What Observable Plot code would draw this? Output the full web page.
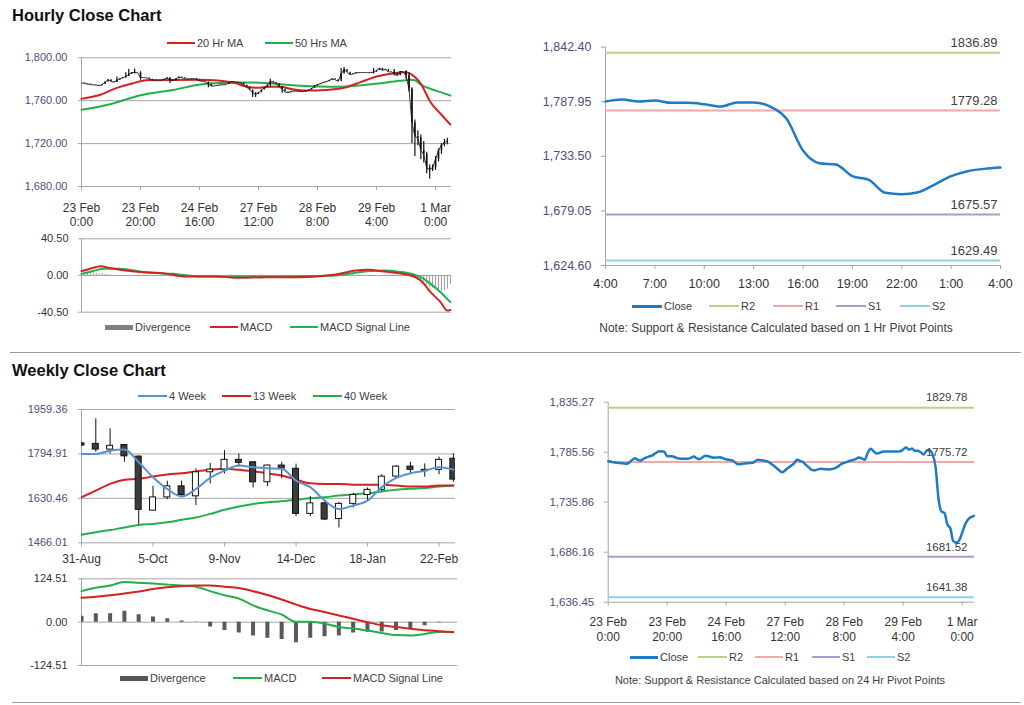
<!DOCTYPE html>
<html><head><meta charset="utf-8">
<script src="https://cdn.jsdelivr.net/npm/d3@7"></script>
<script src="https://cdn.jsdelivr.net/npm/@observablehq/plot@0.6"></script>
<style>
body{margin:0;background:#fff;font-family:"Liberation Sans",Arial,sans-serif;}
#page{position:relative;width:1024px;height:705px;overflow:hidden;background:#fff;}
.title{position:absolute;left:12px;font-weight:bold;font-size:16.5px;line-height:20px;color:#111;white-space:nowrap;}
.lg{position:absolute;font-size:11px;line-height:14px;color:#404040;white-space:nowrap;}
.sw{position:absolute;}
.note{position:absolute;font-size:11px;line-height:14px;color:#404040;white-space:nowrap;transform:translateX(-50%);}
.sep{position:absolute;height:1px;background:#9a9a9a;}
</style></head><body><div id="page"></div>
<script>
// ---------------- DATA ----------------
// Hourly close (23 Feb 0:00 = hour 0, trading hours only)
const hourlyClose = [
1776.6,1776,1775.5,1775,1774.8,1774.5,1774,1775,1777.5,1779.5,
1778,1777.3,1779,1780.5,1781.5,1782.5,1784.5,1786.2,1786.4,1786,
1781.6,1781.5,1781.3,1780,1779.2,1779,1779,1779,1780,1781.3,
1779.5,1778.5,1780.5,1782,1781.5,1780.5,1780,1780.4,1780.6,1779.5,
1778.5,1778,1777.5,1775.5,1773.5,1773.8,1774.2,1774.6,1774.8,1775,
1777,1778,1777.5,1777,1776.5,1774.5,1772.5,1770,1767.5,1765.7,
1767.5,1770,1772,1774.5,1778,1777,1775.8,1773,1770.6,1768,
1767.5,1768.5,1769,1768.8,1768.6,1768.4,1769,1769.8,1771.5,1773.8,
1775,1776,1777,1777.8,1779,1780.4,1779.5,1778,1785,1789,
1786.5,1784.2,1785,1786,1786.2,1786.2,1786.2,1786.2,1786.2,1786.5,
1788.2,1790.2,1788.2,1789.2,1786.9,1786.9,1785.5,1783.2,1787.2,1787.2,
1783.2,1770.9,1739.3,1726.6,1725.3,1713.7,1710.0,1697.1,1695.7,1697.7,
1705.4,1713.7,1718.7,1721.0,1722.3
];
// hourly high/low spikes (notable bars)
const wickHours = [12,15,16,18,20,30,43,58,59,64,68,88,89,99,106,110,111,112,113,114,115,116,117,118,119,120,121,122,123,124];
const wickLows  = [1777,1781,1783,1785,1779,1776,1772,1763,1763,1773,1767,1780,1786,1785,1783,1780,1768,1720,1708,1718,1705,1702,1692,1687,1694,1695,1703,1710,1717,1719];
const wickHighs = [1782,1786,1789,1789.5,1787,1781,1777,1769,1767,1780,1772,1790,1791,1790,1789,1788,1786,1772,1742,1732,1728,1722,1712,1700,1700,1708,1715,1720,1724,1725];

const hourTicks = [0,20,40,60,80,100,120];
const hourTickLabels = ["23 Feb\n0:00","23 Feb\n20:00","24 Feb\n16:00","27 Feb\n12:00","28 Feb\n8:00","29 Feb\n4:00","1 Mar\n0:00"];

const ma20Hours  = [0,6.4,12,17.7,22,40,45,52,56,60,63,67.5,71,76.5,83,89,94.6,100,106,110,111.5,115,118.3,121.7,125];
const ma20Values = [1761.7,1765.5,1772,1776.4,1779,1779.5,1779,1776.4,1773,1772,1773,1773,1771,1769.5,1770,1772,1777.3,1782.6,1785.7,1786.6,1785,1775.8,1758.6,1747.8,1737.8];
const ma50Hours  = [0,10,20,31,43,58,74,85.5,97,108,111.5,113,115,118.3,121.7,125];
const ma50Values = [1751.5,1757,1765,1770,1776,1777,1774,1773,1775,1778.5,1779.5,1779,1775,1771,1768,1764.8];

const hPriceTicks = [1680,1720,1760,1800];

// hourly MACD
const hMacdHours  = [0,3,6.4,10,18,29,35,46,52,63,74,85.5,93,97,102.5,111.5,115,118.3,121.7,124,125];
const hMacdValues = [4.8,7.5,10.3,8,4.4,1.8,-1.1,-1,-2.6,-1.8,-1.8,0.7,5.5,6.3,4.4,0,-5.5,-18.4,-29.4,-38.6,-38];
const hSignalHours  = [0,4,7.6,13,21,31,40,50,60,80,86,97,102.5,108,112.6,115,118.3,121.7,125];
const hSignalValues = [1.8,5,7.4,7.4,3.7,1.8,-1,-1,-1,-0.5,0,4.8,5.5,4,1.1,-1.8,-9.2,-18.4,-29.4];
const hDivHours  = [1,2,3,4,5,6,7,8,9,10,18,19,20,21,22,23,30,31,32,33,34,50,51,60,61,70,71,72,73,74,88,89,90,91,92,104,105,106,107,108,112,113,114,115,116,117,118,119,120,121,122,123,124,125];
const hDivValues = [2,3,3,3,2.5,2,2,1.5,1,0.5,-1,-1.2,-1,-1,-0.8,-0.8,1,1,1.2,1,0.8,0.6,0.8,0.5,0.6,-1,-1.2,-1.2,-1,-0.8,1,1.5,1.5,1.2,1,-0.8,-1,-1.2,-1,-0.8,-1.5,-3,-5,-7,-9,-11,-13,-14,-15,-16,-17,-17,-15,-10];
const hMacdTicks = [-40.5,0,40.5];

// last 24 hours with 1 hr pivots
const dayTicks = [0,3,6,9,12,15,18,21,24];
const dayTickLabels = ["4:00","7:00","10:00","13:00","16:00","19:00","22:00","1:00","4:00"];
const dayPriceTicks = [1624.60,1679.05,1733.50,1787.95,1842.40];
const hourPivotNames  = ["R2","R1","S1","S2"];
const hourPivotValues = [1836.89,1779.28,1675.57,1629.49];

// weekly candles (31-Aug = week 0)
const weekOpen  = [1834,1832,1811,1828,1785,1585,1634,1675,1638,1727,1737,1773,1764,1690,1752,1740,1573,1612,1554,1610,1643,1662,1711,1748,1736,1736,1777];
const weekClose = [1826,1811,1825,1786,1588,1634,1675,1643,1727,1737,1773,1762,1690,1752,1740,1573,1612,1552,1610,1643,1662,1711,1748,1736,1731,1773,1700];
const weekHigh  = [1836,1925,1888,1830,1788,1675,1694,1694,1740,1760,1807,1795,1766,1754,1764,1757,1637,1616,1616,1649,1669,1718,1752,1764,1758,1783,1795];
const weekLow   = [1824,1801,1795,1764,1533,1583,1626,1634,1604,1684,1721,1746,1669,1674,1703,1563,1563,1548,1521,1595,1622,1656,1707,1721,1709,1718,1690];
const ma4Week  = [1795,1795,1807,1811,1764,1709,1665,1637,1665,1706,1733,1752,1746,1742,1740,1696,1672,1622,1591,1604,1622,1672,1706,1723,1733,1746,1737];
const ma13Week = [1634.5,1659,1684,1699,1703,1711,1719,1723,1730,1736,1740,1736,1730,1723,1715,1700,1686,1684,1684,1681,1681,1681,1678,1674,1674,1678,1678];
const ma40Week = [1496,1505,1513,1523,1532,1536,1542,1551,1560,1573,1588,1600,1610,1616,1620,1625,1631,1634.5,1641,1645,1649,1656,1662,1666,1669,1674,1678];
const weekTicks = [0,5,10,15,20,25];
const weekTickLabels = ["31-Aug","5-Oct","9-Nov","14-Dec","18-Jan","22-Feb"];
const wPriceTicks = [1466.01,1630.46,1794.91,1959.36];

// weekly MACD
const wMacd   = [89,99,105,115,113,111,108,105,102,89,77,68,48,34,22,1,1,-4,-14,-18,-24,-31,-37,-38,-34,-28,-28];
const wSignal = [70,73,77,82,88,95,100,103,105,105,102,98,89,78,65,51,38,29,19,10,0,-9,-14,-19,-23,-26,-29];
const wDiv    = [17,24,24,31,21,15,10,3,0.5,-14,-24,-31,-40,-46,-50,-59,-46,-42,-40,-31,-29,-28,-24,-21,-10,-2,0];
const wMacdTicks = [-124.51,0,124.51];

// full week close with 24 hr pivots
const weekPriceTicks = [1636.45,1686.16,1735.86,1785.56,1835.27];
const dayPivotNames  = ["R2","R1","S1","S2"];
const dayPivotValues = [1829.78,1775.72,1681.52,1641.38];

// ---------------- STYLES ----------------
const FONT = '"Liberation Sans", Arial, sans-serif';
const GRID = "#a6a6a6";
const PRICE_LBL = "#574a78";
const RED = "#d42222", GREEN = "#22b04b", BLUE = "#1f7bc4", BLUE4 = "#5b8fd4";
const pivotColor = {R2:"#b7d08a", R1:"#f0a8a8", S1:"#ab98cc", S2:"#8ed2e8"};

const page = document.getElementById("page");
function place(el, left, top){ el.style.position="absolute"; el.style.left=left+"px"; el.style.top=top+"px"; page.appendChild(el); }
function div(cls, text, left, top){ const d=document.createElement("div"); d.className=cls; if(text) d.textContent=text; d.style.left=left+"px"; d.style.top=top+"px"; page.appendChild(d); return d; }
function legend(y, items){
  for (const it of items){
    const sw = div("sw", null, it.x, y - it.h/2);
    sw.style.width = it.w+"px"; sw.style.height = it.h+"px"; sw.style.background = it.color;
    div("lg", it.label, it.x + it.w + 2, y - 7);
  }
}
const baseStyle = (fs) => ({fontFamily: FONT, fontSize: fs, background: "transparent", overflow: "visible", color: "#333"});

// ---------------- HEADINGS ----------------
div("title", "Hourly Close Chart", 12, 5);
div("title", "Weekly Close Chart", 12, 360);
const s1 = div("sep", null, 10, 352); s1.style.width = "1011px";
const s2 = div("sep", null, 12, 702); s2.style.width = "1009px";

// ---------------- PANEL 1: hourly bars + MAs ----------------
const hourly = hourlyClose.map((c,i)=>({h:i, close:c, open: i ? hourlyClose[i-1] : c}));
const wicks = wickHours.map((h,i)=>({h, lo:wickLows[i], hi:wickHighs[i]}));
const ma20 = ma20Hours.map((h,i)=>({h, v:ma20Values[i]}));
const ma50 = ma50Hours.map((h,i)=>({h, v:ma50Values[i]}));

const p1 = Plot.plot({
  width:470, height:190, marginLeft:81, marginRight:19, marginTop:9.3, marginBottom:52,
  x:{domain:[0,125.4]}, y:{domain:[1680,1800]},
  style: baseStyle("11px"),
  marks:[
    Plot.ruleY(hPriceTicks, {stroke:GRID}),
    Plot.ruleX([0], {stroke:GRID}),
    Plot.axisY({ticks:hPriceTicks, tickFormat:d3.format(",.2f"), tickSize:3, tickPadding:11, fill:PRICE_LBL, stroke:GRID, fontSize:11, label:null}),
    Plot.axisX({ticks:hourTicks, tickFormat:d=>hourTickLabels[hourTicks.indexOf(d)], tickSize:4, tickPadding:11, fill:"#333", stroke:GRID, fontSize:12, lineHeight:1.2, label:null}),
    Plot.line(ma50, {x:"h", y:"v", stroke:GREEN, strokeWidth:2, curve:"monotone-x"}),
    Plot.line(ma20, {x:"h", y:"v", stroke:RED, strokeWidth:2, curve:"monotone-x"}),
    Plot.line(hourly, {x:"h", y:"close", stroke:"#222", strokeWidth:0.9}),
    Plot.ruleX(hourly, {x:"h", y1:"open", y2:"close", stroke:"#111", strokeWidth:1.5}),
    Plot.ruleX(wicks, {x:"h", y1:"lo", y2:"hi", stroke:"#111", strokeWidth:1.2})
  ]
});
place(p1, 0, 48);
legend(43, [
  {x:167, w:28, h:2.5, color:RED, label:"20 Hr MA"},
  {x:265, w:28, h:2.5, color:GREEN, label:"50 Hrs MA"}
]);

// ---------------- PANEL 2: hourly MACD ----------------
const hMacd = hMacdHours.map((h,i)=>({h, v:hMacdValues[i]}));
const hSig = hSignalHours.map((h,i)=>({h, v:hSignalValues[i]}));
const hDiv = hDivHours.map((h,i)=>({h, v:hDivValues[i]}));
const p2 = Plot.plot({
  width:470, height:90, marginLeft:81, marginRight:19, marginTop:8.3, marginBottom:8.3,
  x:{domain:[0,125.4], axis:null}, y:{domain:[-40.5,40.5]},
  style: baseStyle("11px"),
  marks:[
    Plot.ruleY(hMacdTicks, {stroke:GRID}),
    Plot.ruleX([0], {stroke:GRID}),
    Plot.axisY({ticks:hMacdTicks, tickFormat:d=>d.toFixed(2), tickSize:3, tickPadding:10, fill:"#333", stroke:GRID, fontSize:11, label:null}),
    Plot.ruleX(hDiv, {x:"h", y1:0, y2:"v", stroke:"#9a9a9a", strokeWidth:1}),
    Plot.line(hSig, {x:"h", y:"v", stroke:GREEN, strokeWidth:2, curve:"monotone-x"}),
    Plot.line(hMacd, {x:"h", y:"v", stroke:RED, strokeWidth:2, curve:"monotone-x"})
  ]
});
place(p2, 0, 230);
legend(327, [
  {x:105, w:28, h:5, color:"#808080", label:"Divergence"},
  {x:210, w:28, h:2.5, color:RED, label:"MACD"},
  {x:290, w:28, h:2.5, color:GREEN, label:"MACD Signal Line"}
]);

// ---------------- PANEL 3: last 24h with 1 hr pivots ----------------
const last24 = hourlyClose.slice(100).map((c,i)=>({h:i, close:c}));
const hPivots = hourPivotNames.map((n,i)=>({name:n, v:hourPivotValues[i]}));
const p3 = Plot.plot({
  width:500, height:270, marginLeft:85, marginRight:20, marginTop:16.7, marginBottom:35,
  x:{domain:[0,24]}, y:{domain:[1624.6,1842.4]},
  style: baseStyle("12px"),
  marks:[
    Plot.ruleX([0], {stroke:GRID}),
    Plot.ruleY([1624.6], {stroke:GRID}),
    Plot.axisY({ticks:dayPriceTicks, tickFormat:d3.format(",.2f"), tickSize:4, tickPadding:10, fill:PRICE_LBL, stroke:GRID, fontSize:12.5, label:null}),
    Plot.axisX({ticks:dayTicks, tickFormat:d=>dayTickLabels[dayTicks.indexOf(d)], tickSize:4, tickPadding:10, fill:"#333", stroke:GRID, fontSize:12.5, label:null}),
    Plot.ruleY(hPivots, {y:"v", stroke:d=>pivotColor[d.name], strokeWidth:2}),
    Plot.text(hPivots, {y:"v", text:d=>d.v.toFixed(2), frameAnchor:"right", textAnchor:"end", dx:-3, dy:-10, fontSize:13, fill:"#404040"}),
    Plot.line(last24, {x:"h", y:"close", stroke:BLUE, strokeWidth:2.5, curve:"monotone-x"})
  ]
});
place(p3, 520, 30);
legend(306, [
  {x:632, w:30, h:3, color:BLUE, label:"Close"},
  {x:709, w:30, h:2, color:pivotColor.R2, label:"R2"},
  {x:773, w:30, h:2, color:pivotColor.R1, label:"R1"},
  {x:836, w:30, h:2, color:pivotColor.S1, label:"S1"},
  {x:900, w:30, h:2, color:pivotColor.S2, label:"S2"}
]);
const n1 = div("note", "Note: Support & Resistance Calculated based on 1 Hr Pivot Points", 776, 321);
n1.style.fontSize = "12px";

// ---------------- PANEL 4: weekly candles ----------------
const weeks = weekOpen.map((o,i)=>({w:i, open:o, close:weekClose[i], high:weekHigh[i], low:weekLow[i],
  m4:ma4Week[i], m13:ma13Week[i], m40:ma40Week[i], macd:wMacd[i], sig:wSignal[i], div:wDiv[i]}));
const p4 = Plot.plot({
  width:470, height:170, marginLeft:81, marginRight:15, marginTop:9, marginBottom:27.7,
  x:{domain:[0,26.15]}, y:{domain:[1466.01,1959.36]},
  style: baseStyle("11px"),
  marks:[
    Plot.ruleY(wPriceTicks, {stroke:GRID}),
    Plot.ruleX([0], {stroke:GRID}),
    Plot.axisY({ticks:wPriceTicks, tickFormat:d=>d.toFixed(2), tickSize:3, tickPadding:11, fill:PRICE_LBL, stroke:GRID, fontSize:11, label:null}),
    Plot.axisX({ticks:weekTicks, tickFormat:d=>weekTickLabels[weekTicks.indexOf(d)], tickSize:4, tickPadding:8, fill:"#333", stroke:GRID, fontSize:12, label:null}),
    Plot.line(weeks, {x:"w", y:"m40", stroke:GREEN, strokeWidth:2, curve:"monotone-x", clip:true}),
    Plot.line(weeks, {x:"w", y:"m13", stroke:RED, strokeWidth:2, curve:"monotone-x", clip:true}),
    Plot.ruleX(weeks, {x:"w", y1:"low", y2:"high", stroke:"#111", strokeWidth:1, clip:true}),
    Plot.rect(weeks, {x1:d=>d.w-0.21, x2:d=>d.w+0.21, y1:"open", y2:"close",
      fill:d=>d.close>=d.open ? "#ffffff" : "#3c3c3c", stroke:"#111", strokeWidth:1, clip:true}),
    Plot.line(weeks, {x:"w", y:"m4", stroke:BLUE4, strokeWidth:2, curve:"monotone-x", clip:true})
  ]
});
place(p4, 0, 400);
legend(396, [
  {x:138, w:29, h:2.5, color:BLUE4, label:"4 Week"},
  {x:222, w:29, h:2.5, color:RED, label:"13 Week"},
  {x:313, w:29, h:2.5, color:GREEN, label:"40 Week"}
]);

// ---------------- PANEL 5: weekly MACD ----------------
const p5 = Plot.plot({
  width:470, height:100, marginLeft:81, marginRight:13, marginTop:8.3, marginBottom:5,
  x:{domain:[0,26.3], axis:null}, y:{domain:[-124.51,124.51]},
  style: baseStyle("11px"),
  marks:[
    Plot.ruleY(wMacdTicks, {stroke:GRID}),
    Plot.ruleX([0], {stroke:GRID}),
    Plot.axisY({ticks:wMacdTicks, tickFormat:d=>d.toFixed(2), tickSize:3, tickPadding:11, fill:"#333", stroke:GRID, fontSize:11, label:null}),
    Plot.ruleX(weeks, {x:"w", y1:0, y2:"div", stroke:"#595959", strokeWidth:4, clip:true}),
    Plot.line(weeks, {x:"w", y:"macd", stroke:GREEN, strokeWidth:2, curve:"monotone-x"}),
    Plot.line(weeks, {x:"w", y:"sig", stroke:RED, strokeWidth:2, curve:"monotone-x"})
  ]
});
place(p5, 0, 570);
legend(678, [
  {x:120, w:28, h:5, color:"#555555", label:"Divergence"},
  {x:233, w:29, h:2.5, color:GREEN, label:"MACD"},
  {x:322, w:29, h:2.5, color:RED, label:"MACD Signal Line"}
]);

// ---------------- PANEL 6: week of hourly closes, 24 hr pivots ----------------
const dPivots = dayPivotNames.map((n,i)=>({name:n, v:dayPivotValues[i]}));
const p6 = Plot.plot({
  width:470, height:260, marginLeft:87.7, marginRight:16, marginTop:11.7, marginBottom:48.3,
  x:{domain:[0,124.2]}, y:{domain:[1636.45,1835.27]},
  style: baseStyle("11.5px"),
  marks:[
    Plot.ruleX([0], {stroke:GRID}),
    Plot.ruleY([1636.45], {stroke:GRID}),
    Plot.axisY({ticks:weekPriceTicks, tickFormat:d3.format(",.2f"), tickSize:4, tickPadding:10, fill:PRICE_LBL, stroke:GRID, fontSize:11.5, label:null}),
    Plot.axisX({ticks:hourTicks, tickFormat:d=>hourTickLabels[hourTicks.indexOf(d)], tickSize:4, tickPadding:10, fill:"#333", stroke:GRID, fontSize:12, lineHeight:1.2, label:null}),
    Plot.ruleY(dPivots, {y:"v", stroke:d=>pivotColor[d.name], strokeWidth:2}),
    Plot.line(hourly, {x:"h", y:"close", stroke:BLUE, strokeWidth:2.5, curve:"monotone-x"}),
    Plot.text(dPivots, {y:"v", text:d=>d.v.toFixed(2), frameAnchor:"right", textAnchor:"end", dx:-7, dy:-10, fontSize:11.5, fill:"#404040"})
  ]
});
place(p6, 520, 390);
legend(657, [
  {x:630, w:28, h:3, color:BLUE, label:"Close"},
  {x:698, w:29, h:2, color:pivotColor.R2, label:"R2"},
  {x:755, w:28, h:2, color:pivotColor.R1, label:"R1"},
  {x:812, w:28, h:2, color:pivotColor.S1, label:"S1"},
  {x:867, w:28, h:2, color:pivotColor.S2, label:"S2"}
]);
div("note", "Note: Support & Resistance Calculated based on 24 Hr Pivot Points", 780, 673);
</script></body></html>
